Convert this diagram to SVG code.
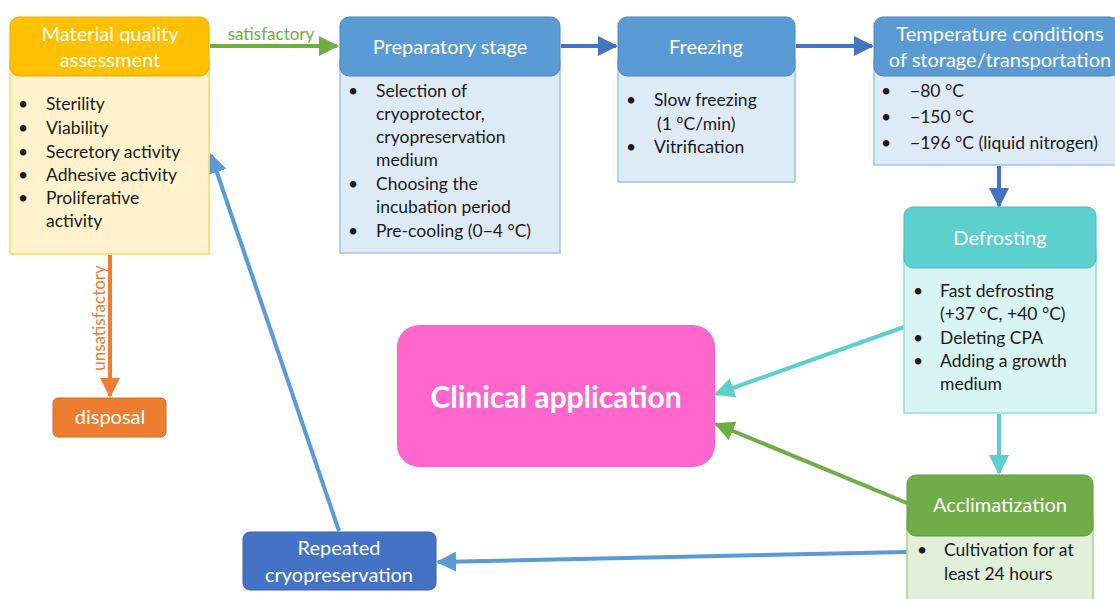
<svg xmlns="http://www.w3.org/2000/svg" width="1115" height="599" viewBox="0 0 1115 599">
<style>
text{font-family:Lato,"Liberation Sans",sans-serif}
.hd{fill:#fff;font-size:20px;text-anchor:middle}
.bt{fill:#1a1a1a;font-size:17.5px}
.c{fill:none;stroke-width:4}
</style>
<defs>
<marker id="mg" viewBox="0 0 10 10" refX="9" refY="5" markerWidth="5" markerHeight="5" orient="auto" markerUnits="strokeWidth"><path d="M0,0L10,5L0,10z" fill="#70AD47"/></marker>
<marker id="mb" viewBox="0 0 10 10" refX="9" refY="5" markerWidth="5" markerHeight="5" orient="auto" markerUnits="strokeWidth"><path d="M0,0L10,5L0,10z" fill="#4472C4"/></marker>
<marker id="mt" viewBox="0 0 10 10" refX="9" refY="5" markerWidth="5" markerHeight="5" orient="auto" markerUnits="strokeWidth"><path d="M0,0L10,5L0,10z" fill="#5BD0CC"/></marker>
<marker id="ml" viewBox="0 0 10 10" refX="9" refY="5" markerWidth="5" markerHeight="5" orient="auto" markerUnits="strokeWidth"><path d="M0,0L10,5L0,10z" fill="#5B9BD5"/></marker>
<marker id="mo" viewBox="0 0 10 10" refX="9" refY="5" markerWidth="5" markerHeight="5" orient="auto" markerUnits="strokeWidth"><path d="M0,0L10,5L0,10z" fill="#ED7D31"/></marker>
</defs>
<rect width="1115" height="599" fill="#fff"/>

<g id="connectors">
<line class="c" x1="210" y1="46" x2="337" y2="46" stroke="#70AD47" marker-end="url(#mg)"/>
<text x="271" y="40" font-size="17" fill="#70AD47" text-anchor="middle">satisfactory</text>
<line class="c" x1="561" y1="46" x2="616" y2="46" stroke="#4472C4" marker-end="url(#mb)"/>
<line class="c" x1="796" y1="46" x2="872" y2="46" stroke="#4472C4" marker-end="url(#mb)"/>
<line class="c" x1="999" y1="166" x2="999" y2="206" stroke="#4472C4" marker-end="url(#mb)"/>
<line class="c" x1="999" y1="414" x2="999" y2="473" stroke="#5BD0CC" marker-end="url(#mt)"/>
<line class="c" x1="904" y1="327" x2="716" y2="394" stroke="#5BD0CC" marker-end="url(#mt)"/>
<line class="c" x1="907" y1="503" x2="716" y2="424" stroke="#70AD47" marker-end="url(#mg)"/>
<line class="c" x1="907" y1="552" x2="438" y2="562" stroke="#5B9BD5" marker-end="url(#ml)"/>
<line class="c" x1="339" y1="531" x2="211" y2="155" stroke="#5B9BD5" marker-end="url(#ml)"/>
<line class="c" x1="110" y1="255" x2="110" y2="396" stroke="#ED7D31" marker-end="url(#mo)"/>
<text transform="translate(105,318) rotate(-90)" font-size="17" fill="#ED7D31" text-anchor="middle">unsatisfactory</text>
</g>

<g id="material">
<rect x="10" y="60" width="199" height="194" fill="#FFF2CC" stroke="#FFD966" stroke-width="1.5"/>
<rect x="10" y="17" width="199" height="59" rx="9" fill="#FFC000" stroke="#E6AC00" stroke-width="1"/>
<text class="hd" x="110" y="41">Material quality</text>
<text class="hd" x="110" y="67">assessment</text>
<g class="bt">
<text x="18" y="110">•</text><text x="46" y="110">Sterility</text>
<text x="18" y="134">•</text><text x="46" y="134">Viability</text>
<text x="18" y="158">•</text><text x="46" y="158">Secretory activity</text>
<text x="18" y="181">•</text><text x="46" y="181">Adhesive activity</text>
<text x="18" y="204">•</text><text x="46" y="204">Proliferative</text>
<text x="46" y="227">activity</text>
</g>
</g>

<g id="preparatory">
<rect x="340" y="60" width="220" height="193" fill="#DEEBF7" stroke="#9DC3E6" stroke-width="1.5"/>
<rect x="340" y="17" width="220" height="59" rx="9" fill="#5B9BD5" stroke="#4A86BE" stroke-width="1"/>
<text class="hd" x="450" y="54">Preparatory stage</text>
<g class="bt">
<text x="348" y="97">•</text><text x="376" y="97">Selection of</text>
<text x="376" y="120">cryoprotector,</text>
<text x="376" y="143">cryopreservation</text>
<text x="376" y="166">medium</text>
<text x="348" y="190">•</text><text x="376" y="190">Choosing the</text>
<text x="376" y="213">incubation period</text>
<text x="348" y="237">•</text><text x="376" y="237">Pre-cooling (0−4 °C)</text>
</g>
</g>

<g id="freezing">
<rect x="618" y="60" width="177" height="122" fill="#DEEBF7" stroke="#9DC3E6" stroke-width="1.5"/>
<rect x="618" y="17" width="177" height="59" rx="9" fill="#5B9BD5" stroke="#4A86BE" stroke-width="1"/>
<text class="hd" x="706" y="54">Freezing</text>
<g class="bt">
<text x="626" y="106">•</text><text x="654" y="106">Slow freezing</text>
<text x="657" y="130">(1 °C/min)</text>
<text x="626" y="153">•</text><text x="654" y="153">Vitrification</text>
</g>
</g>

<g id="temperature">
<rect x="874" y="60" width="245" height="105" fill="#DEEBF7" stroke="#9DC3E6" stroke-width="1.5"/>
<rect x="874" y="17" width="245" height="59" rx="9" fill="#5B9BD5" stroke="#4A86BE" stroke-width="1"/>
<text class="hd" x="1000" y="41">Temperature conditions</text>
<text class="hd" x="1000" y="67">of storage/transportation</text>
<g class="bt">
<text x="881" y="97">•</text><text x="910" y="97">−80 °C</text>
<text x="881" y="123">•</text><text x="910" y="123">−150 °C</text>
<text x="881" y="149">•</text><text x="910" y="149">−196 °C (liquid nitrogen)</text>
</g>
</g>

<g id="defrosting">
<rect x="904" y="250" width="192" height="163" fill="#D8F4F3" stroke="#8EDFDC" stroke-width="1.5"/>
<rect x="904" y="207" width="192" height="61" rx="9" fill="#5BD0CC" stroke="#4FB8B4" stroke-width="1"/>
<text class="hd" x="1000" y="245">Defrosting</text>
<g class="bt">
<text x="913" y="297">•</text><text x="940" y="297">Fast defrosting</text>
<text x="940" y="320">(+37 °C, +40 °C)</text>
<text x="913" y="344">•</text><text x="940" y="344">Deleting CPA</text>
<text x="913" y="367">•</text><text x="940" y="367">Adding a growth</text>
<text x="940" y="390">medium</text>
</g>
</g>

<g id="acclimatization">
<rect x="907" y="520" width="186" height="85" fill="#E2EFDA" stroke="#A9D18E" stroke-width="1.5"/>
<rect x="907" y="475" width="186" height="61" rx="9" fill="#70AD47" stroke="#5E9A3A" stroke-width="1"/>
<text class="hd" x="1000" y="512">Acclimatization</text>
<g class="bt">
<text x="917" y="556">•</text><text x="944" y="556">Cultivation for at</text>
<text x="944" y="580">least 24 hours</text>
</g>
</g>

<g id="clinical">
<rect x="397" y="325" width="318" height="142" rx="22" fill="#FF66CC"/>
<text x="556" y="408" fill="#fff" font-size="30" font-weight="bold" text-anchor="middle">Clinical application</text>
</g>

<g id="repeated">
<rect x="243" y="532" width="193" height="58" rx="7" fill="#4472C4" stroke="#3A62A8" stroke-width="1"/>
<text class="hd" x="339" y="555">Repeated</text>
<text class="hd" x="339" y="582">cryopreservation</text>
</g>

<g id="disposal">
<rect x="53" y="398" width="113" height="39" rx="5" fill="#ED7D31" stroke="#D06A24" stroke-width="1"/>
<text class="hd" x="110" y="424">disposal</text>
</g>
</svg>
